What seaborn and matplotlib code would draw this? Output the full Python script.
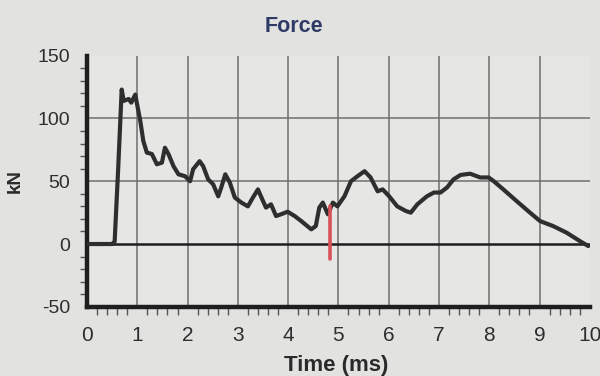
import numpy as np
import pandas as pd
import matplotlib
matplotlib.use("Agg")
import matplotlib.pyplot as plt
import seaborn as sns
from matplotlib.ticker import MultipleLocator

# ---- data ----
time_ms = [0.0, 0.50, 0.55, 0.62, 0.69, 0.73, 0.83, 0.88, 0.96, 0.99, 1.06, 1.12,
           1.19, 1.29, 1.39, 1.49, 1.55, 1.62, 1.72, 1.82, 1.95, 2.05, 2.11, 2.24,
           2.31, 2.41, 2.51, 2.61, 2.67, 2.75, 2.84, 2.94, 3.07, 3.20, 3.30, 3.40,
           3.47, 3.56, 3.66, 3.76, 3.86, 3.99, 4.13, 4.26, 4.46, 4.55, 4.62, 4.69,
           4.79, 4.89, 4.98, 5.12, 5.25, 5.38, 5.52, 5.64, 5.78, 5.88, 6.01, 6.17,
           6.34, 6.44, 6.57, 6.76, 6.90, 7.03, 7.16, 7.29, 7.43, 7.62, 7.82, 7.99,
           8.09, 8.28, 8.55, 8.81, 9.01, 9.27, 9.54, 9.80, 9.97]
force_kn = [0.0, 0.0, 2.0, 60.0, 123.0, 114.0, 115.5, 112.6, 119.0, 112.6, 98.0, 82.0,
            72.8, 71.7, 63.5, 64.8, 76.7, 71.7, 62.0, 55.5, 54.0, 50.0, 59.5, 66.0,
            62.0, 51.5, 47.5, 38.0, 45.0, 55.5, 49.0, 37.0, 33.0, 30.0, 37.0, 43.5,
            37.0, 29.0, 31.6, 22.3, 23.7, 25.7, 22.3, 18.3, 11.7, 14.3, 29.0, 33.0,
            23.7, 33.0, 30.0, 38.0, 50.0, 54.0, 58.0, 53.0, 42.0, 43.5, 38.0, 30.0,
            26.3, 25.0, 31.6, 38.0, 41.0, 41.0, 45.0, 51.5, 55.0, 56.0, 53.0, 53.0,
            50.0, 43.5, 34.0, 25.0, 18.3, 14.3, 9.0, 2.4, -1.6]
marker_time = [4.84, 4.84]
marker_force = [-12.0, 30.0]
x_ticks = [0, 1, 2, 3, 4, 5, 6, 7, 8, 9, 10]
y_ticks = [-50, 0, 50, 100, 150]

df = pd.DataFrame({"Time (ms)": time_ms, "kN": force_kn})
mk = pd.DataFrame({"Time (ms)": marker_time, "kN": marker_force})

sns.set_theme(style="white")
plt.rcParams["font.family"] = ["Liberation Sans", "DejaVu Sans"]
plt.rcParams["axes.unicode_minus"] = False

bg = "#e2e2e0"
fig = plt.figure(figsize=(6.0, 3.76), dpi=100, facecolor=bg)
ax = fig.add_axes([0.145, 0.184, 0.838, 0.668])
ax.set_facecolor("#e6e6e4")

# grid
for xv in x_ticks[1:-1]:
    ax.axvline(xv, color="#6e6e6e", lw=1.1, zorder=1)
for yv in [50, 100]:
    ax.axhline(yv, color="#6e6e6e", lw=1.1, zorder=1)
ax.axhline(0, color="#1e1e1e", lw=1.8, zorder=1)

sns.lineplot(data=df, x="Time (ms)", y="kN", ax=ax, color="#2e2e2e",
             lw=3.0, sort=False, zorder=3, estimator=None)
sns.lineplot(data=mk, x="Time (ms)", y="kN", ax=ax, color="#d8505a",
             lw=2.6, sort=False, zorder=4, estimator=None)

ax.set_xlim(0, 10)
ax.set_ylim(-50, 150)
ax.set_xticks(x_ticks)
ax.set_yticks(y_ticks)
ax.xaxis.set_minor_locator(MultipleLocator(0.2))
ax.yaxis.set_minor_locator(MultipleLocator(10))

for s in ["top", "right"]:
    ax.spines[s].set_visible(False)
for s in ["left", "bottom"]:
    ax.spines[s].set_color("#1e1e1e")
    ax.spines[s].set_linewidth(3.2)

ax.tick_params(axis="both", which="major", length=10, width=1.0, color="#555555",
               labelcolor="#2e2e2e", direction="out")
ax.tick_params(axis="y", which="major", labelsize=14, pad=2)
ax.tick_params(axis="x", which="major", labelsize=15, pad=4)
ax.tick_params(axis="y", which="minor", length=5, width=1.0, color="#555555",
               direction="out", left=True)
ax.tick_params(axis="x", which="minor", length=6, width=1.0, color="#555555",
               direction="out", bottom=True)

ax.set_xlabel("Time (ms)", fontsize=16, fontweight="bold", color="#2a2a2a")
ax.xaxis.label.set_va("top")
ax.xaxis.set_label_coords(0.495, -0.192)
ax.set_ylabel("kN", fontsize=13.5, fontweight="bold", color="#2a2a2a")
ax.yaxis.label.set_va("center")
ax.yaxis.set_label_coords(-0.143, 0.5)
ax.set_title("Force", fontsize=15.5, fontweight="bold", color="#2f3a66",
             x=0.412, y=1.096, pad=0)

fig.savefig("out.png", dpi=100, facecolor=bg)
